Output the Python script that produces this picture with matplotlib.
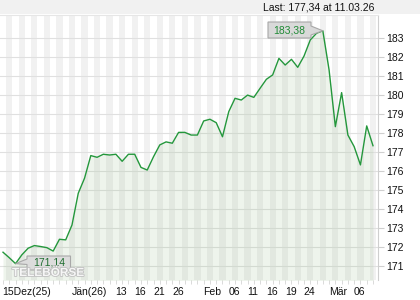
import matplotlib
matplotlib.use("Agg")
import matplotlib.pyplot as plt
import matplotlib.patheffects as pe
from matplotlib.patches import Polygon, Rectangle
import numpy as np

plt.rcParams["font.family"] = ["Liberation Sans", "DejaVu Sans"]

# Schlusskurse 15.12.25 - 11.03.26
prices = [
    171.74, 171.45, 171.14, 171.60, 171.95, 172.09, 172.04, 171.98, 171.80, 172.42,
    172.39, 173.17, 174.84, 175.63, 176.82, 176.73, 176.89, 176.85, 176.89, 176.52,
    176.89, 176.89, 176.20, 176.06, 176.76, 177.38, 177.54, 177.47, 178.04, 178.04,
    177.90, 177.90, 178.64, 178.73, 178.55, 177.81, 179.13, 179.83, 179.74, 180.00,
    179.88, 180.36, 180.83, 181.06, 181.93, 181.58, 181.88, 181.46, 182.05, 182.90,
    183.25, 183.38, 181.32, 178.34, 180.13, 177.90, 177.29, 176.33, 178.38, 177.34,
]
label_idx = [0, 11, 18, 21, 24, 27, 32, 36, 39, 42, 45, 48, 52, 56]
label_txt = ["15Dez(25)", "Jän(26)", "13", "16", "21", "26", "Feb", "06",
             "11", "16", "19", "24", "Mär", "06"]
y_ticks = list(range(171, 184))
last_text = "Last: 177,34 at 11.03.26"

W, H = 420, 300
fig = plt.figure(figsize=(W / 100, H / 100), dpi=100)
fig.patch.set_facecolor("white")
# Kopfzeile
fig.patches.append(Rectangle((0, 286 / H), 1, 14 / H, transform=fig.transFigure,
                             facecolor="#f1f1f1", edgecolor="none", zorder=0))
fig.text(374 / W, 1 - 10.5 / H, last_text, ha="right", va="baseline",
         fontsize=7.5, color="#111111")

ax = fig.add_axes([0, 20 / H, 378 / W, 265 / H])
n = len(prices)
x = np.arange(n)
ax.set_xlim(-0.48, n - 0.2)
ax.set_ylim(170.28, 184.21)

# Streifen pro Handelstag
for i in range(n):
    if i % 2 == 1:
        ax.axvspan(i - 0.5, i + 0.5, color="#f1f1f1", lw=0, zorder=0)
for v in y_ticks:
    ax.axhline(v, color="#e0e0e0", lw=0.8, zorder=1)

ax.fill_between(x, prices, 170.0, color="#8fb880", alpha=0.15, lw=0, zorder=2)
ax.plot(x, prices, color="#24973c", lw=1.0, zorder=3)

for s in ["left", "bottom"]:
    ax.spines[s].set_visible(False)
ax.spines["top"].set_color("#e6e6e6")
ax.spines["right"].set_color("#cfcfcf")
ax.spines["right"].set_linewidth(0.8)

ax.yaxis.tick_right()
ax.set_yticks(y_ticks)
ax.set_yticklabels([str(v) for v in y_ticks])
ax.tick_params(axis="y", length=4, width=0.8, color="#cfcfcf", pad=2,
               labelsize=7.5, labelcolor="#111111")
ax.set_xticks(x)
ax.set_xticklabels([])
ax.tick_params(axis="x", length=3, width=0.6, color="#d4d4d4", direction="out")

for i, t in zip(label_idx, label_txt):
    ax.text(i - 0.05, -15 / 265, t, transform=ax.get_xaxis_transform(),
            ha="left", va="baseline", fontsize=7.5, color="#111111")

fig.canvas.draw()


def px(xd, yd):
    # Datenkoordinaten -> Pixel (oben links)
    dx, dy = ax.transData.transform((xd, yd))
    return dx, H - dy


def to_fig(pts):
    return [(a / W, 1 - b / H) for a, b in pts]


# Hoch-Markierung
imax = int(np.argmax(prices))
hx, hy = px(imax, prices[imax])
box_hi = [(268, 22), (311, 22), (311, 26), (hx, hy), (311, 35), (311, 38), (268, 38)]
fig.patches.append(Polygon(to_fig(box_hi), closed=True, transform=fig.transFigure,
                           facecolor="#d9d9d9", edgecolor="#a8a8a8", lw=0.8, zorder=5))
fig.text(289.5 / W, 1 - 30.5 / H, "183,38", ha="center", va="center",
         fontsize=7.5, color="#1f8a35", zorder=6)

# Tief-Markierung
imin = int(np.argmin(prices))
lx, ly = px(imin, prices[imin])
box_lo = [(lx, ly), (27, 259), (27, 256), (70.5, 256), (70.5, 270), (27, 270), (27, 264.5)]
fig.patches.append(Polygon(to_fig(box_lo), closed=True, transform=fig.transFigure,
                           facecolor="#dcdcdc", edgecolor="#a8a8a8", lw=0.8, zorder=5))
fig.text(49 / W, 1 - 262.5 / H, "171,14", ha="center", va="center",
         fontsize=7.5, color="#1f6e30", zorder=6)

# Wasserzeichen
fig.text(12 / W, 1 - 276 / H, "TELEBÖRSE", ha="left", va="baseline",
         fontsize=8.5, fontweight="bold", color="#f6f6f6", zorder=7,
         path_effects=[pe.withStroke(linewidth=1.2, foreground="#c0c0c0")])

fig.savefig("out.png", dpi=100)
